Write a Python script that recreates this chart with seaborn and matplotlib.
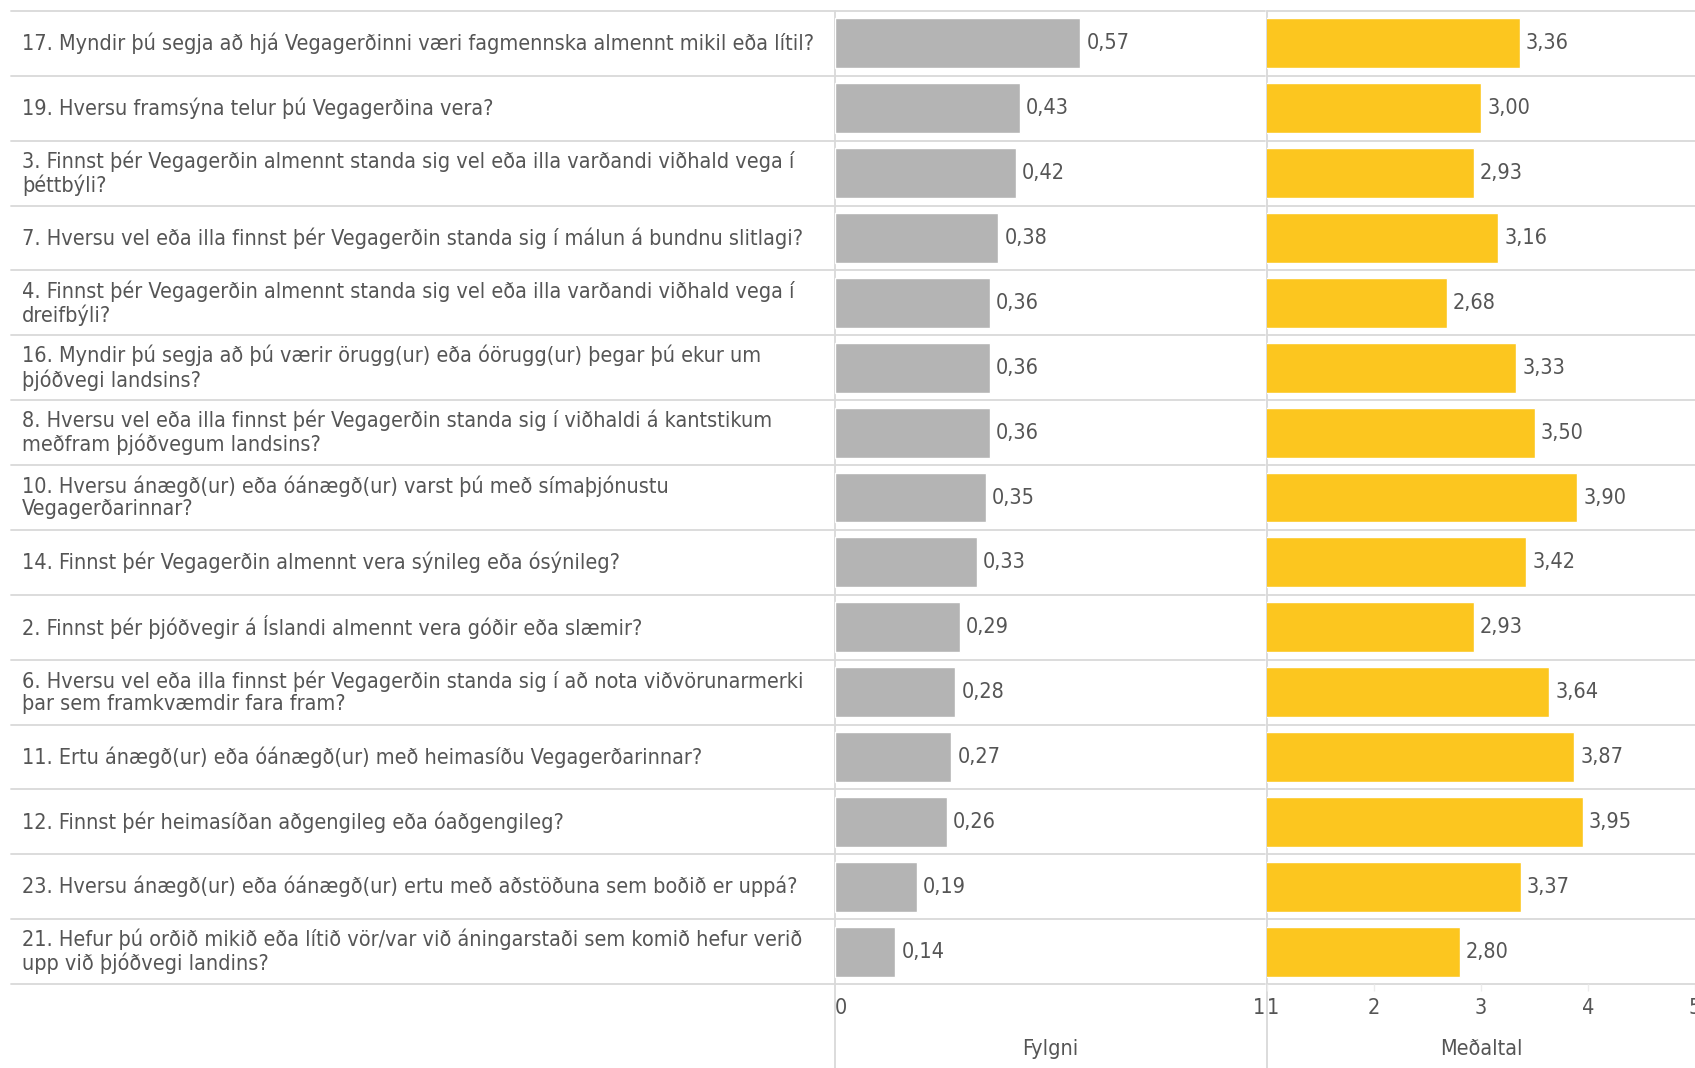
import matplotlib
matplotlib.use('Agg')
import numpy as np
import pandas as pd
import seaborn as sns
import matplotlib.pyplot as plt
from matplotlib import font_manager

questions = [
    '17. Myndir þú segja að hjá Vegagerðinni væri fagmennska almennt mikil eða lítil?',
    '19. Hversu framsýna telur þú Vegagerðina vera?',
    '3. Finnst þér Vegagerðin almennt standa sig vel eða illa varðandi viðhald vega í\nþéttbýli?',
    '7. Hversu vel eða illa finnst þér Vegagerðin standa sig í málun á bundnu slitlagi?',
    '4. Finnst þér Vegagerðin almennt standa sig vel eða illa varðandi viðhald vega í\ndreifbýli?',
    '16. Myndir þú segja að þú værir örugg(ur) eða óörugg(ur) þegar þú ekur um\nþjóðvegi landsins?',
    '8. Hversu vel eða illa finnst þér Vegagerðin standa sig í viðhaldi á kantstikum\nmeðfram þjóðvegum landsins?',
    '10. Hversu ánægð(ur) eða óánægð(ur) varst þú með símaþjónustu\nVegagerðarinnar?',
    '14. Finnst þér Vegagerðin almennt vera sýnileg eða ósýnileg?',
    '2. Finnst þér þjóðvegir á Íslandi almennt vera góðir eða slæmir?',
    '6. Hversu vel eða illa finnst þér Vegagerðin standa sig í að nota viðvörunarmerki\nþar sem framkvæmdir fara fram?',
    '11. Ertu ánægð(ur) eða óánægð(ur) með heimasíðu Vegagerðarinnar?',
    '12. Finnst þér heimasíðan aðgengileg eða óaðgengileg?',
    '23. Hversu ánægð(ur) eða óánægð(ur) ertu með aðstöðuna sem boðið er uppá?',
    '21. Hefur þú orðið mikið eða lítið vör/var við áningarstaði sem komið hefur verið\nupp við þjóðvegi landins?',
]
fylgni = [0.57, 0.43, 0.42, 0.38, 0.36, 0.36, 0.36, 0.35, 0.33, 0.29, 0.28, 0.27, 0.26, 0.19, 0.14]
medaltal = [3.36, 3.00, 2.93, 3.16, 2.68, 3.33, 3.50, 3.90, 3.42, 2.93, 3.64, 3.87, 3.95, 3.37, 2.80]

GRAY = '#b4b4b4'
YELLOW = '#fcc61f'
TEXT = '#555555'
LINE = '#d9d9d9'
FS = 15.5

sns.set_theme(style='white')
fonts = {(f.name, f.stretch) for f in font_manager.fontManager.ttflist}
if ('DejaVu Sans', 'condensed') in fonts:
    plt.rcParams['font.family'] = ['DejaVu Sans']
    plt.rcParams['font.stretch'] = 'condensed'
elif any(n == 'Liberation Sans Narrow' for n, _ in fonts):
    plt.rcParams['font.family'] = ['Liberation Sans Narrow', 'DejaVu Sans']
else:
    plt.rcParams['font.family'] = ['DejaVu Sans']

df = pd.DataFrame({'question': questions, 'fylgni': fylgni, 'medaltal': medaltal})

W, H = 1695, 1068
top, bottom = 11, 984
fig = plt.figure(figsize=(W / 100, H / 100), dpi=100)


def add_ax(x0, x1):
    return fig.add_axes([x0 / W, 1 - bottom / H, (x1 - x0) / W, (bottom - top) / H])


ax_lab = add_ax(11, 834)
ax_g = add_ax(835, 1265)
ax_y = add_ax(1267, 1695)

sns.barplot(data=df, x='fylgni', y='question', ax=ax_g, color=GRAY,
            saturation=1, width=0.77, orient='h')
sns.barplot(data=df, x='medaltal', y='question', ax=ax_y, color=YELLOW,
            saturation=1, width=0.77, orient='h')

n = len(questions)
for ax in (ax_lab, ax_g, ax_y):
    ax.set_ylim(n - 0.5, -0.5)
    ax.set_yticks([])
    ax.set_ylabel('')
    for s in ax.spines.values():
        s.set_visible(False)
    for b in np.arange(-0.5, n):
        ax.axhline(b, color=LINE, lw=1.3, clip_on=False, zorder=0)

ax_lab.set_xlim(0, 1)
ax_lab.set_xticks([])
for i, q in enumerate(questions):
    ax_lab.text(0.0134, i, q, va='center', ha='left', fontsize=FS,
                color=TEXT, linespacing=1.15)

ax_g.set_xlim(0, 1)
ax_y.set_xlim(1, 5)

for ax, vals in ((ax_g, fylgni), (ax_y, medaltal)):
    ax.bar_label(ax.containers[0], labels=[f'{v:.2f}'.replace('.', ',') for v in vals],
                 padding=4.5, color=TEXT, fontsize=FS)

ax_g.axvline(0, ymin=-0.087, ymax=1, color=LINE, lw=1.3, clip_on=False, zorder=0)
ax_y.axvline(1, ymin=-0.087, ymax=1, color=LINE, lw=1.3, clip_on=False, zorder=0)

ax_g.set_xticks([0, 1])
ax_g.set_xticklabels(['0', '1'])
ax_g.tick_params(axis='x', length=0, pad=10, labelsize=FS, labelcolor=TEXT)
ax_y.set_xticks([1, 2, 3, 4, 5])
ax_y.set_xticklabels(['1', '2', '3', '4', '5'])
ax_y.tick_params(axis='x', bottom=True, length=5, width=1, color='#ececec',
                 pad=5, labelsize=FS, labelcolor=TEXT)

for lbl, ha in zip(ax_g.get_xticklabels(), ['left', 'right']):
    lbl.set_ha(ha)
for lbl, ha in zip(ax_y.get_xticklabels(), ['left', 'center', 'center', 'center', 'center']):
    lbl.set_ha(ha)

ax_g.set_xlabel('Fylgni', fontsize=FS, color=TEXT, labelpad=15)
ax_y.set_xlabel('Meðaltal', fontsize=FS, color=TEXT, labelpad=15)

fig.savefig('out.png', dpi=100, facecolor='white')
